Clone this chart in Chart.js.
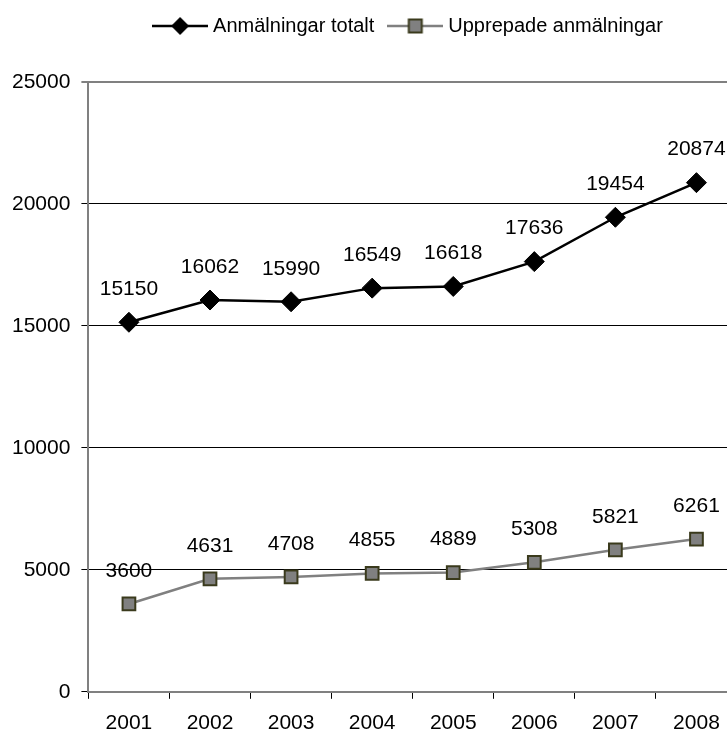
<!DOCTYPE html>
<html>
<head>
<meta charset="utf-8">
<script src="https://cdn.jsdelivr.net/npm/chart.js@4.4.1/dist/chart.umd.min.js"></script>
<style>
html,body{margin:0;padding:0;background:#fff;overflow:hidden;width:727px;height:733px;}
canvas{display:block;}
</style>
</head>
<body>
<canvas id="c" width="820" height="753"></canvas>
<script>
const years = ['2001','2002','2003','2004','2005','2006','2007','2008'];
const totalLabel = 'Anmälningar totalt';
const repeatLabel = 'Upprepade anmälningar';
const totalValues = [15150, 16062, 15990, 16549, 16618, 17636, 19454, 20874];
const repeatValues = [3600, 4631, 4708, 4855, 4889, 5308, 5821, 6261];
const yTicks = [0, 5000, 10000, 15000, 20000, 25000];

const FONT = '"Liberation Sans", Arial, Helvetica, sans-serif';
const GREY = '#808080';
const OLIVE = '#3a3a1c';

function legendImage(kind) {
  const c = document.createElement('canvas');
  c.width = 56; c.height = 22;
  const g = c.getContext('2d');
  g.lineWidth = 2.5;
  g.strokeStyle = kind === 'total' ? '#000' : GREY;
  g.beginPath(); g.moveTo(0, 11); g.lineTo(56, 11); g.stroke();
  if (kind === 'total') {
    g.fillStyle = '#000';
    g.beginPath(); g.moveTo(28-9, 11); g.lineTo(28, 2); g.lineTo(28+9, 11); g.lineTo(28, 20); g.closePath(); g.fill();
  } else {
    g.fillStyle = GREY; g.strokeStyle = OLIVE; g.lineWidth = 2;
    g.fillRect(21.5, 4.5, 13, 13); g.strokeRect(21.5, 4.5, 13, 13);
  }
  return c;
}
const legendImgs = [legendImage('total'), legendImage('repeat')];

const valueLabels = {
  id: 'valueLabels',
  afterDatasetsDraw(chart) {
    const ctx = chart.ctx;
    ctx.save();
    ctx.font = '21px ' + FONT;
    ctx.fillStyle = '#000';
    ctx.textAlign = 'center';
    ctx.textBaseline = 'middle';
    chart.data.datasets.forEach((ds, i) => {
      const meta = chart.getDatasetMeta(i);
      meta.data.forEach((pt, j) => {
        ctx.fillText(String(ds.data[j]), pt.x, pt.y - 33);
      });
    });
    ctx.restore();
  }
};

const legendShift = {
  id: 'legendShift',
  afterLayout(chart) {
    const lg = chart.legend;
    if (!lg) return;
    lg.left += 41; lg.right += 41;
    lg.top -= 36; lg.bottom -= 36;
  }
};

new Chart(document.getElementById('c'), {
  type: 'line',
  data: {
    labels: years,
    datasets: [
      {
        label: totalLabel,
        data: totalValues,
        borderColor: '#000',
        borderWidth: 2.5,
        pointStyle: 'rectRot',
        pointRadius: 10,
        pointHoverRadius: 10,
        pointBackgroundColor: '#000',
        pointBorderColor: '#000',
        pointBorderWidth: 1,
        tension: 0
      },
      {
        label: repeatLabel,
        data: repeatValues,
        borderColor: GREY,
        borderWidth: 2.5,
        pointStyle: 'rect',
        pointRadius: 9,
        pointHoverRadius: 9,
        pointBackgroundColor: GREY,
        pointBorderColor: OLIVE,
        pointBorderWidth: 2,
        tension: 0
      }
    ]
  },
  options: {
    responsive: false,
    animation: false,
    devicePixelRatio: 1,
    layout: { padding: { left: 1, right: 83, top: 34, bottom: 5 } },
    plugins: {
      tooltip: { enabled: false },
      legend: {
        position: 'top',
        align: 'center',
        labels: {
          color: '#000',
          font: { family: FONT, size: 20 },
          usePointStyle: true,
          pointStyleWidth: 46,
          boxHeight: 20,
          padding: 18,
          generateLabels(chart) {
            return chart.data.datasets.map((ds, i) => ({
              text: ds.label,
              pointStyle: legendImgs[i],
              fillStyle: ds.borderColor,
              strokeStyle: ds.borderColor,
              lineWidth: 0,
              hidden: false,
              datasetIndex: i,
              fontColor: '#000'
            }));
          }
        }
      }
    },
    scales: {
      x: {
        type: 'category',
        offset: true,
        grid: {
          offset: true,
          drawOnChartArea: false,
          drawTicks: true,
          tickLength: 7,
          color: '#000',
          lineWidth: 1
        },
        border: { display: true, color: GREY, width: 2 },
        ticks: {
          color: '#000',
          font: { family: FONT, size: 21 },
          padding: 12,
          maxRotation: 0
        }
      },
      y: {
        min: 0,
        max: 25000,
        afterBuildTicks(axis) { axis.ticks = yTicks.map(v => ({ value: v })); },
        grid: {
          drawTicks: true,
          tickLength: 7,
          color: (c) => (c.tick && c.tick.value === 25000) ? GREY : '#000',
          lineWidth: (c) => (c.tick && c.tick.value === 25000) ? 2 : 1
        },
        border: { display: true, color: GREY, width: 2 },
        ticks: {
          color: '#000',
          font: { family: FONT, size: 21 },
          padding: 11,
          callback: (v) => String(v)
        }
      }
    }
  },
  plugins: [valueLabels, legendShift]
});
</script>
</body>
</html>
